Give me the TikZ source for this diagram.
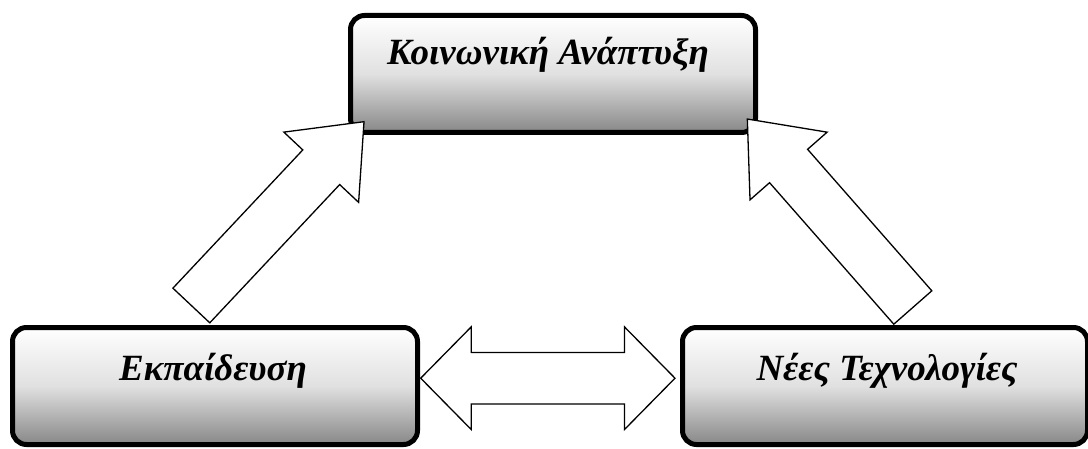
\documentclass[tikz,border=0pt]{standalone}
\usepackage{fontspec}
\setmainfont{Liberation Serif}
\tikzset{
  box/.style={draw=black, line width=5pt, rounded corners=14pt,
    top color=white, bottom color=black!47, middle color=black!12,
    minimum width=405pt, minimum height=117pt, inner sep=0pt},
  lbl/.style={anchor=base, inner sep=0pt, font=\fontsize{37}{44}\selectfont\bfseries\itshape},
  blk/.style={draw=black, fill=white, line width=1.3pt, line join=miter}
}
\newcommand\blockarr[4]{%
  \begin{scope}[shift={(#1)}, rotate=#2]
    \draw[blk] (0,-25.3) -- ({#3-#4},-25.3) -- ({#3-#4},-51.3) -- (#3,0)
      -- ({#3-#4},51.3) -- ({#3-#4},25.3) -- (0,25.3) -- cycle;
  \end{scope}}
\begin{document}
\begin{tikzpicture}[x=1pt,y=1pt]
\useasboundingbox (0,0) rectangle (1088,448);
% boxes
\node[box] (top) at (553,374) {};
\node[box] (left) at (215,62) {};
\node[box] (right) at (885,62) {};
% labels
\node[lbl] (toptxt) at (548,383) {Κοινωνική Ανάπτυξη};
\node[lbl] (lefttxt) at (213,68) {Εκπαίδευση};
\node[lbl] (righttxt) at (887,68) {Νέες Τεχνολογίες};
% connector anchors
\coordinate (la) at (191.35,142.5);
\coordinate (ra) at (912.8,140.5);
\coordinate (ha) at (547.85,69.8);
% block arrows
\blockarr{la}{46.79}{252.2}{62.5}
\blockarr{ra}{131.28}{250.8}{62.5}
\begin{scope}[shift={(ha)}]
  \draw[blk] (-127.15,0) -- (-76.65,51.3) -- (-76.65,25.8) -- (76.65,25.8)
    -- (76.65,51.3) -- (127.15,0) -- (76.65,-51.3) -- (76.65,-25.8)
    -- (-76.65,-25.8) -- (-76.65,-51.3) -- cycle;
\end{scope}
\end{tikzpicture}
\end{document}
